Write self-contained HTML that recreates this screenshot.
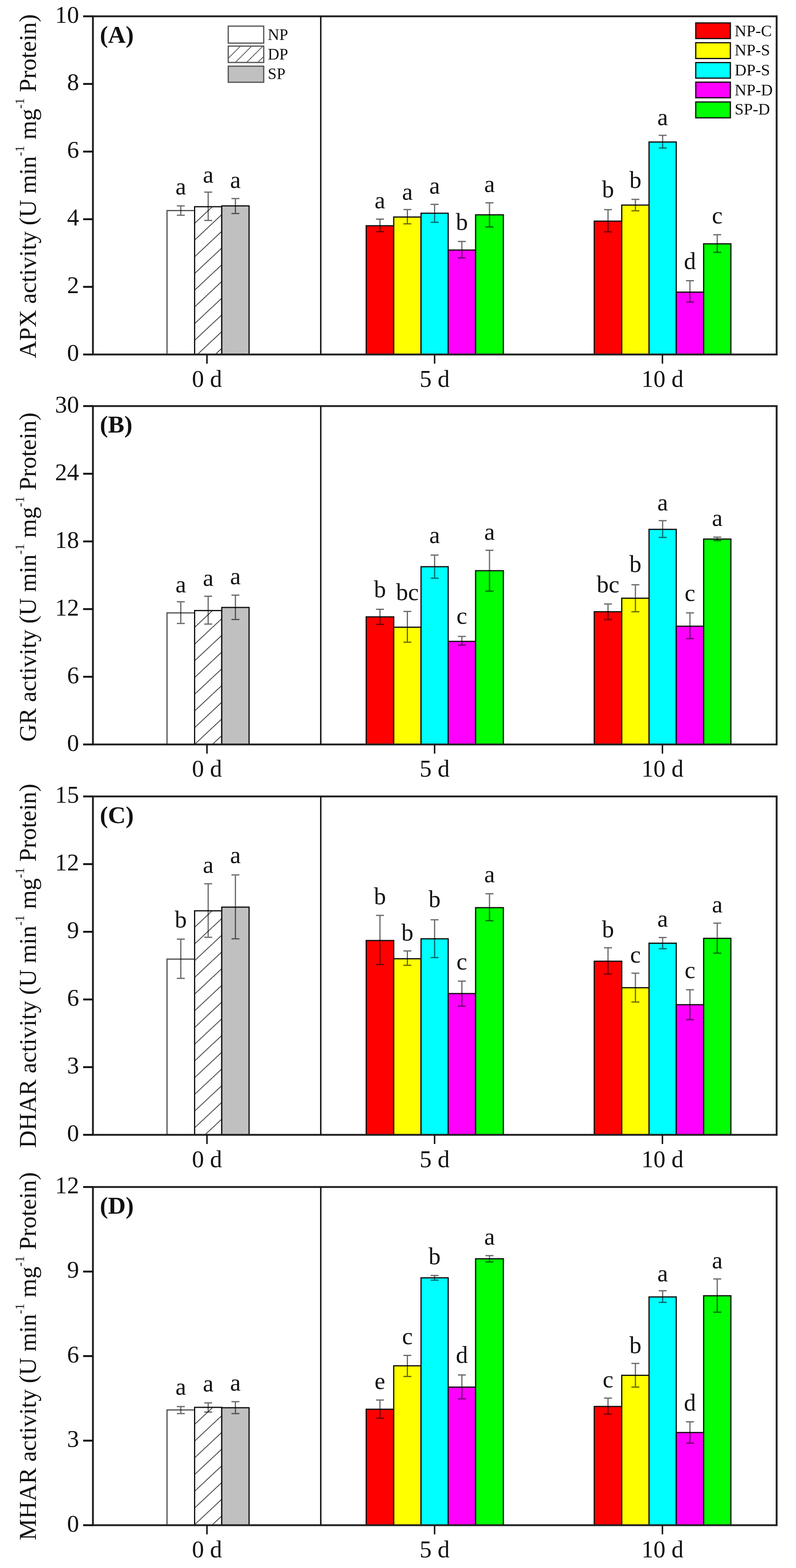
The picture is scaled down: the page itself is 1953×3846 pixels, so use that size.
<!DOCTYPE html><html><head><meta charset="utf-8"><title>Antioxidant enzyme activities</title>
<style>html,body{margin:0;padding:0;background:#fff;}svg{display:block;}text{font-family:'Liberation Serif', 'Times New Roman', serif;fill:#111;}</style></head><body>
<svg width="1953" height="3846" viewBox="0 0 1953 3846">
<rect x="0" y="0" width="1953" height="3846" fill="#fff"/>
<defs>
<pattern id="hatch0" patternUnits="userSpaceOnUse" x="477.4" y="14.9" width="43.757" height="41">
<rect width="43.757" height="41" fill="#fff"/>
<line x1="0" y1="0.00" x2="43.757" y2="-41.00" stroke="#333" stroke-width="2"/>
<line x1="0" y1="41.00" x2="43.757" y2="0.00" stroke="#333" stroke-width="2"/>
<line x1="0" y1="82.00" x2="43.757" y2="41.00" stroke="#333" stroke-width="2"/>
</pattern>
<pattern id="hatch1" patternUnits="userSpaceOnUse" x="477.4" y="21.9" width="43.757" height="41">
<rect width="43.757" height="41" fill="#fff"/>
<line x1="0" y1="0.00" x2="43.757" y2="-41.00" stroke="#333" stroke-width="2"/>
<line x1="0" y1="41.00" x2="43.757" y2="0.00" stroke="#333" stroke-width="2"/>
<line x1="0" y1="82.00" x2="43.757" y2="41.00" stroke="#333" stroke-width="2"/>
</pattern>
<pattern id="hatch2" patternUnits="userSpaceOnUse" x="477.4" y="19.4" width="43.757" height="41">
<rect width="43.757" height="41" fill="#fff"/>
<line x1="0" y1="0.00" x2="43.757" y2="-41.00" stroke="#333" stroke-width="2"/>
<line x1="0" y1="41.00" x2="43.757" y2="0.00" stroke="#333" stroke-width="2"/>
<line x1="0" y1="82.00" x2="43.757" y2="41.00" stroke="#333" stroke-width="2"/>
</pattern>
<pattern id="hatch3" patternUnits="userSpaceOnUse" x="477.4" y="8.8" width="43.757" height="41">
<rect width="43.757" height="41" fill="#fff"/>
<line x1="0" y1="0.00" x2="43.757" y2="-41.00" stroke="#333" stroke-width="2"/>
<line x1="0" y1="41.00" x2="43.757" y2="0.00" stroke="#333" stroke-width="2"/>
<line x1="0" y1="82.00" x2="43.757" y2="41.00" stroke="#333" stroke-width="2"/>
</pattern>
<pattern id="hatchL" patternUnits="userSpaceOnUse" x="564" y="111.6" width="27.5" height="27.5">
<rect width="27.5" height="27.5" fill="#fff"/>
<line x1="0" y1="0.00" x2="27.5" y2="-27.50" stroke="#444" stroke-width="1.8"/>
<line x1="0" y1="27.50" x2="27.5" y2="0.00" stroke="#444" stroke-width="1.8"/>
<line x1="0" y1="55.00" x2="27.5" y2="27.50" stroke="#444" stroke-width="1.8"/>
</pattern>
</defs>
<rect x="409.8" y="516.5" width="67.7" height="353" fill="#ffffff" stroke="#555" stroke-width="3"/>
<rect x="477.5" y="507" width="66.6" height="362.5" fill="url(#hatch0)" stroke="#111" stroke-width="3"/>
<rect x="544.1" y="505" width="67" height="364.5" fill="#c0c0c0" stroke="#111" stroke-width="3"/>
<path d="M443.6 505V528M433.9 505H453.4M433.9 528H453.4" stroke="#000" stroke-opacity="0.58" stroke-width="3" fill="none"/>
<text x="443.6" y="477.3" font-size="59" text-anchor="middle">a</text>
<path d="M510.8 471.2V540.8M501.1 471.2H520.5M501.1 540.8H520.5" stroke="#000" stroke-opacity="0.58" stroke-width="3" fill="none"/>
<text x="510.8" y="447.7" font-size="59" text-anchor="middle">a</text>
<path d="M577.6 486.9V523.8M567.9 486.9H587.4M567.9 523.8H587.4" stroke="#000" stroke-opacity="0.58" stroke-width="3" fill="none"/>
<text x="577.6" y="461.1" font-size="59" text-anchor="middle">a</text>
<rect x="898.5" y="553.7" width="67.5" height="315.8" fill="#ff0000" stroke="#111" stroke-width="3"/>
<rect x="966" y="532.3" width="67" height="337.2" fill="#ffff00" stroke="#111" stroke-width="3"/>
<rect x="1033" y="523" width="66.6" height="346.5" fill="#00ffff" stroke="#111" stroke-width="3"/>
<rect x="1099.6" y="613.3" width="67.3" height="256.2" fill="#ff00ff" stroke="#111" stroke-width="3"/>
<rect x="1166.9" y="526.9" width="68.1" height="342.6" fill="#00ff00" stroke="#111" stroke-width="3"/>
<path d="M932.2 537.6V568.2M922.5 537.6H942M922.5 568.2H942" stroke="#000" stroke-opacity="0.58" stroke-width="3" fill="none"/>
<text x="932.2" y="510.9" font-size="59" text-anchor="middle">a</text>
<path d="M999.5 513.9V549M989.8 513.9H1009.2M989.8 549H1009.2" stroke="#000" stroke-opacity="0.58" stroke-width="3" fill="none"/>
<text x="999.5" y="489.8" font-size="59" text-anchor="middle">a</text>
<path d="M1066.3 501.3V545.3M1056.5 501.3H1076M1056.5 545.3H1076" stroke="#000" stroke-opacity="0.58" stroke-width="3" fill="none"/>
<text x="1066.3" y="474.5" font-size="59" text-anchor="middle">a</text>
<path d="M1133.2 592.3V632.4M1123.5 592.3H1143M1123.5 632.4H1143" stroke="#000" stroke-opacity="0.58" stroke-width="3" fill="none"/>
<text x="1133.2" y="564.4" font-size="59" text-anchor="middle">b</text>
<path d="M1201 497.5V556.7M1191.2 497.5H1210.7M1191.2 556.7H1210.7" stroke="#000" stroke-opacity="0.58" stroke-width="3" fill="none"/>
<text x="1201" y="470.7" font-size="59" text-anchor="middle">a</text>
<rect x="1458" y="542.4" width="67.5" height="327.1" fill="#ff0000" stroke="#111" stroke-width="3"/>
<rect x="1525.5" y="503" width="66.9" height="366.5" fill="#ffff00" stroke="#111" stroke-width="3"/>
<rect x="1592.4" y="348.3" width="66.8" height="521.2" fill="#00ffff" stroke="#111" stroke-width="3"/>
<rect x="1659.2" y="716.5" width="67.2" height="153" fill="#ff00ff" stroke="#111" stroke-width="3"/>
<rect x="1726.4" y="598" width="66.8" height="271.5" fill="#00ff00" stroke="#111" stroke-width="3"/>
<path d="M1491.8 514.3V568.8M1482 514.3H1501.5M1482 568.8H1501.5" stroke="#000" stroke-opacity="0.58" stroke-width="3" fill="none"/>
<text x="1491.8" y="484.4" font-size="59" text-anchor="middle">b</text>
<path d="M1559 489V517.1M1549.2 489H1568.7M1549.2 517.1H1568.7" stroke="#000" stroke-opacity="0.58" stroke-width="3" fill="none"/>
<text x="1559" y="460.9" font-size="59" text-anchor="middle">b</text>
<path d="M1625.8 332.1V363.1M1616.1 332.1H1635.6M1616.1 363.1H1635.6" stroke="#000" stroke-opacity="0.58" stroke-width="3" fill="none"/>
<text x="1625.8" y="306.8" font-size="59" text-anchor="middle">a</text>
<path d="M1692.8 688.4V741.1M1683.1 688.4H1702.6M1683.1 741.1H1702.6" stroke="#000" stroke-opacity="0.58" stroke-width="3" fill="none"/>
<text x="1692.8" y="660.3" font-size="59" text-anchor="middle">d</text>
<path d="M1759.8 575.8V619.1M1750.1 575.8H1769.6M1750.1 619.1H1769.6" stroke="#000" stroke-opacity="0.58" stroke-width="3" fill="none"/>
<text x="1759.8" y="547.7" font-size="59" text-anchor="middle">c</text>
<rect x="228" y="40" width="1677.5" height="829.5" fill="none" stroke="#222" stroke-width="4.6"/>
<line x1="787" y1="40" x2="787" y2="869.5" stroke="#111" stroke-width="3.5"/>
<line x1="204" y1="869.5" x2="228" y2="869.5" stroke="#111" stroke-width="4.6"/>
<text x="194" y="885" font-size="59" text-anchor="end">0</text>
<line x1="204" y1="703.6" x2="228" y2="703.6" stroke="#111" stroke-width="4.6"/>
<text x="194" y="719.1" font-size="59" text-anchor="end">2</text>
<line x1="204" y1="537.7" x2="228" y2="537.7" stroke="#111" stroke-width="4.6"/>
<text x="194" y="553.2" font-size="59" text-anchor="end">4</text>
<line x1="204" y1="371.8" x2="228" y2="371.8" stroke="#111" stroke-width="4.6"/>
<text x="194" y="387.3" font-size="59" text-anchor="end">6</text>
<line x1="204" y1="205.9" x2="228" y2="205.9" stroke="#111" stroke-width="4.6"/>
<text x="194" y="221.4" font-size="59" text-anchor="end">8</text>
<line x1="204" y1="40" x2="228" y2="40" stroke="#111" stroke-width="4.6"/>
<text x="194" y="55.5" font-size="59" text-anchor="end">10</text>
<line x1="507.8" y1="869.5" x2="507.8" y2="892" stroke="#111" stroke-width="3.6"/>
<text x="507.8" y="948.5" font-size="59" text-anchor="middle">0 d</text>
<line x1="1066.3" y1="869.5" x2="1066.3" y2="892" stroke="#111" stroke-width="3.6"/>
<text x="1066.3" y="948.5" font-size="59" text-anchor="middle">5 d</text>
<line x1="1625.3" y1="869.5" x2="1625.3" y2="892" stroke="#111" stroke-width="3.6"/>
<text x="1625.3" y="948.5" font-size="59" text-anchor="middle">10 d</text>
<text transform="translate(88 456.8) rotate(-90)" font-size="59.3" text-anchor="middle">APX activity (U min<tspan dy="-29" font-size="31">-1</tspan><tspan dy="29"> mg</tspan><tspan dy="-29" font-size="31">-1</tspan><tspan dy="29"> Protein)</tspan></text>
<text x="245" y="105" font-size="60" font-weight="bold">(A)</text>
<rect x="560" y="64.1" width="87" height="41.7" fill="#fff" stroke="#555" stroke-width="3"/>
<text x="657" y="98.1" font-size="39">NP</text>
<rect x="560" y="113.1" width="87" height="40.1" fill="url(#hatchL)" stroke="#555" stroke-width="3"/>
<text x="657" y="145.5" font-size="39">DP</text>
<rect x="560" y="162.3" width="87" height="39.5" fill="#c0c0c0" stroke="#555" stroke-width="3"/>
<text x="657" y="194.4" font-size="39">SP</text>
<rect x="1707" y="56.2" width="85" height="38.3" fill="#ff0000" stroke="#111" stroke-width="3"/>
<text x="1802.5" y="88.6" font-size="40">NP-C</text>
<rect x="1707" y="104.8" width="85" height="38.7" fill="#ffff00" stroke="#111" stroke-width="3"/>
<text x="1802.5" y="136.3" font-size="40">NP-S</text>
<rect x="1707" y="153.5" width="85" height="38.2" fill="#00ffff" stroke="#111" stroke-width="3"/>
<text x="1802.5" y="185" font-size="40">DP-S</text>
<rect x="1707" y="201.5" width="85" height="38.3" fill="#ff00ff" stroke="#111" stroke-width="3"/>
<text x="1802.5" y="233.6" font-size="40">NP-D</text>
<rect x="1707" y="250.1" width="85" height="38.9" fill="#00ff00" stroke="#111" stroke-width="3"/>
<text x="1802.5" y="281.3" font-size="40">SP-D</text>
<rect x="409.8" y="1503.3" width="67.7" height="322.7" fill="#ffffff" stroke="#555" stroke-width="3"/>
<rect x="477.5" y="1497.6" width="66.6" height="328.4" fill="url(#hatch1)" stroke="#111" stroke-width="3"/>
<rect x="544.1" y="1490" width="67" height="336" fill="#c0c0c0" stroke="#111" stroke-width="3"/>
<path d="M443.6 1476V1529.2M433.9 1476H453.4M433.9 1529.2H453.4" stroke="#000" stroke-opacity="0.58" stroke-width="3" fill="none"/>
<text x="443.6" y="1452.7" font-size="59" text-anchor="middle">a</text>
<path d="M510.8 1462.6V1530.7M501.1 1462.6H520.5M501.1 1530.7H520.5" stroke="#000" stroke-opacity="0.58" stroke-width="3" fill="none"/>
<text x="510.8" y="1437.4" font-size="59" text-anchor="middle">a</text>
<path d="M577.6 1459.8V1519.6M567.9 1459.8H587.4M567.9 1519.6H587.4" stroke="#000" stroke-opacity="0.58" stroke-width="3" fill="none"/>
<text x="577.6" y="1432.6" font-size="59" text-anchor="middle">a</text>
<rect x="898.5" y="1513" width="67.5" height="313" fill="#ff0000" stroke="#111" stroke-width="3"/>
<rect x="966" y="1538.4" width="67" height="287.6" fill="#ffff00" stroke="#111" stroke-width="3"/>
<rect x="1033" y="1390" width="66.6" height="436" fill="#00ffff" stroke="#111" stroke-width="3"/>
<rect x="1099.6" y="1573.2" width="67.3" height="252.8" fill="#ff00ff" stroke="#111" stroke-width="3"/>
<rect x="1166.9" y="1399.8" width="68.1" height="426.2" fill="#00ff00" stroke="#111" stroke-width="3"/>
<path d="M932.2 1494.6V1531.4M922.5 1494.6H942M922.5 1531.4H942" stroke="#000" stroke-opacity="0.58" stroke-width="3" fill="none"/>
<text x="932.2" y="1464.9" font-size="59" text-anchor="middle">b</text>
<path d="M999.5 1499.7V1575.2M989.8 1499.7H1009.2M989.8 1575.2H1009.2" stroke="#000" stroke-opacity="0.58" stroke-width="3" fill="none"/>
<text x="999.5" y="1472" font-size="59" text-anchor="middle">bc</text>
<path d="M1066.3 1361.6V1418.2M1056.5 1361.6H1076M1056.5 1418.2H1076" stroke="#000" stroke-opacity="0.58" stroke-width="3" fill="none"/>
<text x="1066.3" y="1331.9" font-size="59" text-anchor="middle">a</text>
<path d="M1133.2 1561V1582.3M1123.5 1561H1143M1123.5 1582.3H1143" stroke="#000" stroke-opacity="0.58" stroke-width="3" fill="none"/>
<text x="1133.2" y="1530" font-size="59" text-anchor="middle">c</text>
<path d="M1201 1349.8V1449.9M1191.2 1349.8H1210.7M1191.2 1449.9H1210.7" stroke="#000" stroke-opacity="0.58" stroke-width="3" fill="none"/>
<text x="1201" y="1323.5" font-size="59" text-anchor="middle">a</text>
<rect x="1458" y="1500.4" width="67.5" height="325.6" fill="#ff0000" stroke="#111" stroke-width="3"/>
<rect x="1525.5" y="1467.3" width="66.9" height="358.7" fill="#ffff00" stroke="#111" stroke-width="3"/>
<rect x="1592.4" y="1298.4" width="66.8" height="527.6" fill="#00ffff" stroke="#111" stroke-width="3"/>
<rect x="1659.2" y="1536" width="67.2" height="290" fill="#ff00ff" stroke="#111" stroke-width="3"/>
<rect x="1726.4" y="1322.2" width="66.8" height="503.8" fill="#00ff00" stroke="#111" stroke-width="3"/>
<path d="M1491.8 1481.5V1519.7M1482 1481.5H1501.5M1482 1519.7H1501.5" stroke="#000" stroke-opacity="0.58" stroke-width="3" fill="none"/>
<text x="1491.8" y="1453.2" font-size="59" text-anchor="middle">bc</text>
<path d="M1559 1434.2V1500.4M1549.2 1434.2H1568.7M1549.2 1500.4H1568.7" stroke="#000" stroke-opacity="0.58" stroke-width="3" fill="none"/>
<text x="1559" y="1403.1" font-size="59" text-anchor="middle">b</text>
<path d="M1625.8 1277V1318.2M1616.1 1277H1635.6M1616.1 1318.2H1635.6" stroke="#000" stroke-opacity="0.58" stroke-width="3" fill="none"/>
<text x="1625.8" y="1251.8" font-size="59" text-anchor="middle">a</text>
<path d="M1692.8 1503.3V1566.3M1683.1 1503.3H1702.6M1683.1 1566.3H1702.6" stroke="#000" stroke-opacity="0.58" stroke-width="3" fill="none"/>
<text x="1692.8" y="1474.4" font-size="59" text-anchor="middle">c</text>
<path d="M1759.8 1317.4V1325.9M1750.1 1317.4H1769.6M1750.1 1325.9H1769.6" stroke="#000" stroke-opacity="0.58" stroke-width="3" fill="none"/>
<text x="1759.8" y="1290" font-size="59" text-anchor="middle">a</text>
<rect x="228" y="996" width="1677.5" height="830" fill="none" stroke="#222" stroke-width="4.6"/>
<line x1="787" y1="996" x2="787" y2="1826" stroke="#111" stroke-width="3.5"/>
<line x1="204" y1="1826" x2="228" y2="1826" stroke="#111" stroke-width="4.6"/>
<text x="194" y="1841.5" font-size="59" text-anchor="end">0</text>
<line x1="204" y1="1660" x2="228" y2="1660" stroke="#111" stroke-width="4.6"/>
<text x="194" y="1675.5" font-size="59" text-anchor="end">6</text>
<line x1="204" y1="1494" x2="228" y2="1494" stroke="#111" stroke-width="4.6"/>
<text x="194" y="1509.5" font-size="59" text-anchor="end">12</text>
<line x1="204" y1="1328" x2="228" y2="1328" stroke="#111" stroke-width="4.6"/>
<text x="194" y="1343.5" font-size="59" text-anchor="end">18</text>
<line x1="204" y1="1162" x2="228" y2="1162" stroke="#111" stroke-width="4.6"/>
<text x="194" y="1177.5" font-size="59" text-anchor="end">24</text>
<line x1="204" y1="996" x2="228" y2="996" stroke="#111" stroke-width="4.6"/>
<text x="194" y="1011.5" font-size="59" text-anchor="end">30</text>
<line x1="507.8" y1="1826" x2="507.8" y2="1848.5" stroke="#111" stroke-width="3.6"/>
<text x="507.8" y="1905" font-size="59" text-anchor="middle">0 d</text>
<line x1="1066.3" y1="1826" x2="1066.3" y2="1848.5" stroke="#111" stroke-width="3.6"/>
<text x="1066.3" y="1905" font-size="59" text-anchor="middle">5 d</text>
<line x1="1625.3" y1="1826" x2="1625.3" y2="1848.5" stroke="#111" stroke-width="3.6"/>
<text x="1625.3" y="1905" font-size="59" text-anchor="middle">10 d</text>
<text transform="translate(88 1415.5) rotate(-90)" font-size="59.3" text-anchor="middle">GR activity (U min<tspan dy="-29" font-size="31">-1</tspan><tspan dy="29"> mg</tspan><tspan dy="-29" font-size="31">-1</tspan><tspan dy="29"> Protein)</tspan></text>
<text x="245" y="1061" font-size="60" font-weight="bold">(B)</text>
<rect x="409.8" y="2352.5" width="67.7" height="431" fill="#ffffff" stroke="#555" stroke-width="3"/>
<rect x="477.5" y="2234" width="66.6" height="549.5" fill="url(#hatch2)" stroke="#111" stroke-width="3"/>
<rect x="544.1" y="2225" width="67" height="558.5" fill="#c0c0c0" stroke="#111" stroke-width="3"/>
<path d="M443.6 2303.5V2399.8M433.9 2303.5H453.4M433.9 2399.8H453.4" stroke="#000" stroke-opacity="0.58" stroke-width="3" fill="none"/>
<text x="443.6" y="2275.1" font-size="59" text-anchor="middle">b</text>
<path d="M510.8 2167.7V2299M501.1 2167.7H520.5M501.1 2299H520.5" stroke="#000" stroke-opacity="0.58" stroke-width="3" fill="none"/>
<text x="510.8" y="2141.3" font-size="59" text-anchor="middle">a</text>
<path d="M577.6 2146.1V2302.8M567.9 2146.1H587.4M567.9 2302.8H587.4" stroke="#000" stroke-opacity="0.58" stroke-width="3" fill="none"/>
<text x="577.6" y="2117.4" font-size="59" text-anchor="middle">a</text>
<rect x="898.5" y="2306.9" width="67.5" height="476.6" fill="#ff0000" stroke="#111" stroke-width="3"/>
<rect x="966" y="2351.6" width="67" height="431.9" fill="#ffff00" stroke="#111" stroke-width="3"/>
<rect x="1033" y="2302.7" width="66.6" height="480.8" fill="#00ffff" stroke="#111" stroke-width="3"/>
<rect x="1099.6" y="2437" width="67.3" height="346.5" fill="#ff00ff" stroke="#111" stroke-width="3"/>
<rect x="1166.9" y="2226.3" width="68.1" height="557.2" fill="#00ff00" stroke="#111" stroke-width="3"/>
<path d="M932.2 2245.2V2365.7M922.5 2245.2H942M922.5 2365.7H942" stroke="#000" stroke-opacity="0.58" stroke-width="3" fill="none"/>
<text x="932.2" y="2217.8" font-size="59" text-anchor="middle">b</text>
<path d="M999.5 2332.4V2367.7M989.8 2332.4H1009.2M989.8 2367.7H1009.2" stroke="#000" stroke-opacity="0.58" stroke-width="3" fill="none"/>
<text x="999.5" y="2306.9" font-size="59" text-anchor="middle">b</text>
<path d="M1066.3 2256V2348.8M1056.5 2256H1076M1056.5 2348.8H1076" stroke="#000" stroke-opacity="0.58" stroke-width="3" fill="none"/>
<text x="1066.3" y="2224.9" font-size="59" text-anchor="middle">b</text>
<path d="M1133.2 2406.5V2468.1M1123.5 2406.5H1143M1123.5 2468.1H1143" stroke="#000" stroke-opacity="0.58" stroke-width="3" fill="none"/>
<text x="1133.2" y="2377.6" font-size="59" text-anchor="middle">c</text>
<path d="M1201 2192.3V2258.2M1191.2 2192.3H1210.7M1191.2 2258.2H1210.7" stroke="#000" stroke-opacity="0.58" stroke-width="3" fill="none"/>
<text x="1201" y="2164" font-size="59" text-anchor="middle">a</text>
<rect x="1458" y="2357.7" width="67.5" height="425.8" fill="#ff0000" stroke="#111" stroke-width="3"/>
<rect x="1525.5" y="2422.7" width="66.9" height="360.8" fill="#ffff00" stroke="#111" stroke-width="3"/>
<rect x="1592.4" y="2313.5" width="66.8" height="470" fill="#00ffff" stroke="#111" stroke-width="3"/>
<rect x="1659.2" y="2464.3" width="67.2" height="319.2" fill="#ff00ff" stroke="#111" stroke-width="3"/>
<rect x="1726.4" y="2301.6" width="66.8" height="481.9" fill="#00ff00" stroke="#111" stroke-width="3"/>
<path d="M1491.8 2324.8V2389.3M1482 2324.8H1501.5M1482 2389.3H1501.5" stroke="#000" stroke-opacity="0.58" stroke-width="3" fill="none"/>
<text x="1491.8" y="2298.8" font-size="59" text-anchor="middle">b</text>
<path d="M1559 2387.1V2457.8M1549.2 2387.1H1568.7M1549.2 2457.8H1568.7" stroke="#000" stroke-opacity="0.58" stroke-width="3" fill="none"/>
<text x="1559" y="2361" font-size="59" text-anchor="middle">c</text>
<path d="M1625.8 2299.4V2327.1M1616.1 2299.4H1635.6M1616.1 2327.1H1635.6" stroke="#000" stroke-opacity="0.58" stroke-width="3" fill="none"/>
<text x="1625.8" y="2272.8" font-size="59" text-anchor="middle">a</text>
<path d="M1692.8 2427.8V2501.1M1683.1 2427.8H1702.6M1683.1 2501.1H1702.6" stroke="#000" stroke-opacity="0.58" stroke-width="3" fill="none"/>
<text x="1692.8" y="2399.2" font-size="59" text-anchor="middle">c</text>
<path d="M1759.8 2264.3V2337.9M1750.1 2264.3H1769.6M1750.1 2337.9H1769.6" stroke="#000" stroke-opacity="0.58" stroke-width="3" fill="none"/>
<text x="1759.8" y="2238" font-size="59" text-anchor="middle">a</text>
<rect x="228" y="1953.5" width="1677.5" height="830" fill="none" stroke="#222" stroke-width="4.6"/>
<line x1="787" y1="1953.5" x2="787" y2="2783.5" stroke="#111" stroke-width="3.5"/>
<line x1="204" y1="2783.5" x2="228" y2="2783.5" stroke="#111" stroke-width="4.6"/>
<text x="194" y="2799" font-size="59" text-anchor="end">0</text>
<line x1="204" y1="2617.5" x2="228" y2="2617.5" stroke="#111" stroke-width="4.6"/>
<text x="194" y="2633" font-size="59" text-anchor="end">3</text>
<line x1="204" y1="2451.5" x2="228" y2="2451.5" stroke="#111" stroke-width="4.6"/>
<text x="194" y="2467" font-size="59" text-anchor="end">6</text>
<line x1="204" y1="2285.5" x2="228" y2="2285.5" stroke="#111" stroke-width="4.6"/>
<text x="194" y="2301" font-size="59" text-anchor="end">9</text>
<line x1="204" y1="2119.5" x2="228" y2="2119.5" stroke="#111" stroke-width="4.6"/>
<text x="194" y="2135" font-size="59" text-anchor="end">12</text>
<line x1="204" y1="1953.5" x2="228" y2="1953.5" stroke="#111" stroke-width="4.6"/>
<text x="194" y="1969" font-size="59" text-anchor="end">15</text>
<line x1="507.8" y1="2783.5" x2="507.8" y2="2806" stroke="#111" stroke-width="3.6"/>
<text x="507.8" y="2862.5" font-size="59" text-anchor="middle">0 d</text>
<line x1="1066.3" y1="2783.5" x2="1066.3" y2="2806" stroke="#111" stroke-width="3.6"/>
<text x="1066.3" y="2862.5" font-size="59" text-anchor="middle">5 d</text>
<line x1="1625.3" y1="2783.5" x2="1625.3" y2="2806" stroke="#111" stroke-width="3.6"/>
<text x="1625.3" y="2862.5" font-size="59" text-anchor="middle">10 d</text>
<text transform="translate(88 2369) rotate(-90)" font-size="59.3" text-anchor="middle">DHAR activity (U min<tspan dy="-29" font-size="31">-1</tspan><tspan dy="29"> mg</tspan><tspan dy="-29" font-size="31">-1</tspan><tspan dy="29"> Protein)</tspan></text>
<text x="245" y="2018.5" font-size="60" font-weight="bold">(C)</text>
<rect x="409.8" y="3458.3" width="67.7" height="282.7" fill="#ffffff" stroke="#555" stroke-width="3"/>
<rect x="477.5" y="3452" width="66.6" height="289" fill="url(#hatch3)" stroke="#111" stroke-width="3"/>
<rect x="544.1" y="3452.9" width="67" height="288.1" fill="#c0c0c0" stroke="#111" stroke-width="3"/>
<path d="M443.6 3450V3467.2M433.9 3450H453.4M433.9 3467.2H453.4" stroke="#000" stroke-opacity="0.58" stroke-width="3" fill="none"/>
<text x="443.6" y="3421.4" font-size="59" text-anchor="middle">a</text>
<path d="M510.8 3441V3463.4M501.1 3441H520.5M501.1 3463.4H520.5" stroke="#000" stroke-opacity="0.58" stroke-width="3" fill="none"/>
<text x="510.8" y="3412.8" font-size="59" text-anchor="middle">a</text>
<path d="M577.6 3438V3467.2M567.9 3438H587.4M567.9 3467.2H587.4" stroke="#000" stroke-opacity="0.58" stroke-width="3" fill="none"/>
<text x="577.6" y="3410.5" font-size="59" text-anchor="middle">a</text>
<rect x="898.5" y="3456.6" width="67.5" height="284.4" fill="#ff0000" stroke="#111" stroke-width="3"/>
<rect x="966" y="3350" width="67" height="391" fill="#ffff00" stroke="#111" stroke-width="3"/>
<rect x="1033" y="3134.2" width="66.6" height="606.8" fill="#00ffff" stroke="#111" stroke-width="3"/>
<rect x="1099.6" y="3402.3" width="67.3" height="338.7" fill="#ff00ff" stroke="#111" stroke-width="3"/>
<rect x="1166.9" y="3087.5" width="68.1" height="653.5" fill="#00ff00" stroke="#111" stroke-width="3"/>
<path d="M932.2 3434V3478.7M922.5 3434H942M922.5 3478.7H942" stroke="#000" stroke-opacity="0.58" stroke-width="3" fill="none"/>
<text x="932.2" y="3406.5" font-size="59" text-anchor="middle">e</text>
<path d="M999.5 3324.5V3376.3M989.8 3324.5H1009.2M989.8 3376.3H1009.2" stroke="#000" stroke-opacity="0.58" stroke-width="3" fill="none"/>
<text x="999.5" y="3297.1" font-size="59" text-anchor="middle">c</text>
<path d="M1066.3 3128.6V3139.9M1056.5 3128.6H1076M1056.5 3139.9H1076" stroke="#000" stroke-opacity="0.58" stroke-width="3" fill="none"/>
<text x="1066.3" y="3100.8" font-size="59" text-anchor="middle">b</text>
<path d="M1133.2 3372.6V3431.1M1123.5 3372.6H1143M1123.5 3431.1H1143" stroke="#000" stroke-opacity="0.58" stroke-width="3" fill="none"/>
<text x="1133.2" y="3342.9" font-size="59" text-anchor="middle">d</text>
<path d="M1201 3079.7V3095.3M1191.2 3079.7H1210.7M1191.2 3095.3H1210.7" stroke="#000" stroke-opacity="0.58" stroke-width="3" fill="none"/>
<text x="1201" y="3052.8" font-size="59" text-anchor="middle">a</text>
<rect x="1458" y="3449.8" width="67.5" height="291.2" fill="#ff0000" stroke="#111" stroke-width="3"/>
<rect x="1525.5" y="3373.4" width="66.9" height="367.6" fill="#ffff00" stroke="#111" stroke-width="3"/>
<rect x="1592.4" y="3181.1" width="66.8" height="559.9" fill="#00ffff" stroke="#111" stroke-width="3"/>
<rect x="1659.2" y="3513.7" width="67.2" height="227.3" fill="#ff00ff" stroke="#111" stroke-width="3"/>
<rect x="1726.4" y="3178.2" width="66.8" height="562.8" fill="#00ff00" stroke="#111" stroke-width="3"/>
<path d="M1491.8 3429.2V3468.8M1482 3429.2H1501.5M1482 3468.8H1501.5" stroke="#000" stroke-opacity="0.58" stroke-width="3" fill="none"/>
<text x="1491.8" y="3402.9" font-size="59" text-anchor="middle">c</text>
<path d="M1559 3344.3V3402.3M1549.2 3344.3H1568.7M1549.2 3402.3H1568.7" stroke="#000" stroke-opacity="0.58" stroke-width="3" fill="none"/>
<text x="1559" y="3318.8" font-size="59" text-anchor="middle">b</text>
<path d="M1625.8 3166.1V3194.4M1616.1 3166.1H1635.6M1616.1 3194.4H1635.6" stroke="#000" stroke-opacity="0.58" stroke-width="3" fill="none"/>
<text x="1625.8" y="3142.6" font-size="59" text-anchor="middle">a</text>
<path d="M1692.8 3487.5V3539.8M1683.1 3487.5H1702.6M1683.1 3539.8H1702.6" stroke="#000" stroke-opacity="0.58" stroke-width="3" fill="none"/>
<text x="1692.8" y="3460.3" font-size="59" text-anchor="middle">d</text>
<path d="M1759.8 3136.9V3218.4M1750.1 3136.9H1769.6M1750.1 3218.4H1769.6" stroke="#000" stroke-opacity="0.58" stroke-width="3" fill="none"/>
<text x="1759.8" y="3110.9" font-size="59" text-anchor="middle">a</text>
<rect x="228" y="2911.5" width="1677.5" height="829.5" fill="none" stroke="#222" stroke-width="4.6"/>
<line x1="787" y1="2911.5" x2="787" y2="3741" stroke="#111" stroke-width="3.5"/>
<line x1="204" y1="3741" x2="228" y2="3741" stroke="#111" stroke-width="4.6"/>
<text x="194" y="3756.5" font-size="59" text-anchor="end">0</text>
<line x1="204" y1="3533.6" x2="228" y2="3533.6" stroke="#111" stroke-width="4.6"/>
<text x="194" y="3549.1" font-size="59" text-anchor="end">3</text>
<line x1="204" y1="3326.2" x2="228" y2="3326.2" stroke="#111" stroke-width="4.6"/>
<text x="194" y="3341.8" font-size="59" text-anchor="end">6</text>
<line x1="204" y1="3118.9" x2="228" y2="3118.9" stroke="#111" stroke-width="4.6"/>
<text x="194" y="3134.4" font-size="59" text-anchor="end">9</text>
<line x1="204" y1="2911.5" x2="228" y2="2911.5" stroke="#111" stroke-width="4.6"/>
<text x="194" y="2927" font-size="59" text-anchor="end">12</text>
<line x1="507.8" y1="3741" x2="507.8" y2="3763.5" stroke="#111" stroke-width="3.6"/>
<text x="507.8" y="3820" font-size="59" text-anchor="middle">0 d</text>
<line x1="1066.3" y1="3741" x2="1066.3" y2="3763.5" stroke="#111" stroke-width="3.6"/>
<text x="1066.3" y="3820" font-size="59" text-anchor="middle">5 d</text>
<line x1="1625.3" y1="3741" x2="1625.3" y2="3763.5" stroke="#111" stroke-width="3.6"/>
<text x="1625.3" y="3820" font-size="59" text-anchor="middle">10 d</text>
<text transform="translate(88 3326.5) rotate(-90)" font-size="59.3" text-anchor="middle">MHAR activity (U min<tspan dy="-29" font-size="31">-1</tspan><tspan dy="29"> mg</tspan><tspan dy="-29" font-size="31">-1</tspan><tspan dy="29"> Protein)</tspan></text>
<text x="245" y="2976.5" font-size="60" font-weight="bold">(D)</text>
</svg></body></html>
